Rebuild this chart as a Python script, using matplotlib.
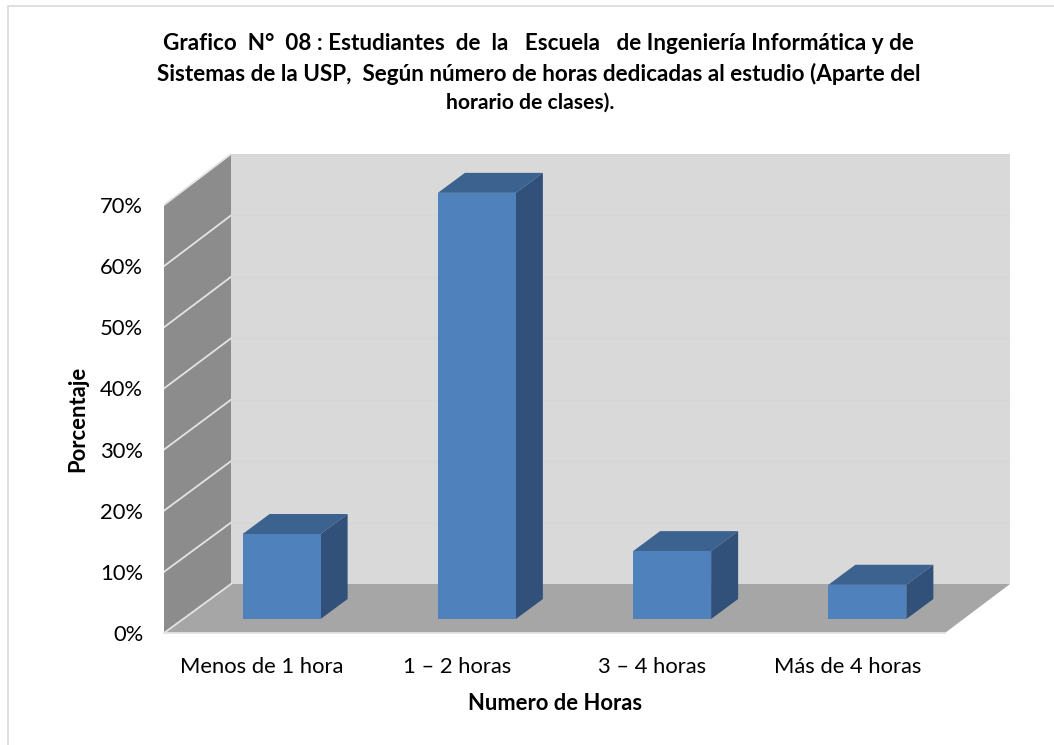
import matplotlib.pyplot as plt
from matplotlib.patches import Rectangle

categories = ["Menos de 1 hora", "1 – 2 horas", "3 – 4 horas", "Más de 4 horas"]
values = [13.9, 69.7, 11.1, 5.6]
yticks = [0, 10, 20, 30, 40, 50, 60, 70]
title_lines = [
    "Grafico  N°  08 : Estudiantes  de  la   Escuela   de Ingeniería Informática y de",
    "Sistemas de la USP,  Según número de horas dedicadas al estudio (Aparte del",
    "horario de clases).",
]

W, H = 1054, 745
plt.rcParams['font.family'] = ['Lato', 'DejaVu Sans']

fig = plt.figure(figsize=(W / 100, H / 100), dpi=100)

# axes run from the front-left corner of the floor to the top-right of the back wall
left, right, bottom, top = 164, 1010, 633, 154
ax = fig.add_axes([left / W, 1 - bottom / H, (right - left) / W, (bottom - top) / H])
px_x = 195.25   # pixels for one category
px_y = 6.114    # pixels for one percent
ax.set_xlim(0, (right - left) / px_x)
ax.set_ylim(0, (bottom - top) / px_y)
ax.patch.set_visible(False)
for s in ax.spines.values():
    s.set_visible(False)

# depth of the box and of the bars, in data units
dx = 67 / px_x
dy = 49 / px_y
rise = 2 / px_y     # back wall is a little taller than the front edge
bar_dx = 27 / px_x
bar_dy = 20 / px_y
bar_w = 78 / px_x
bar_base = 14 / px_y
bar_shift = 20 / px_x
wall_top = 70

# walls and floor
ax.fill([0, dx, dx, 0], [0, dy, wall_top + dy + rise, wall_top], color='#8C8C8C', lw=0, zorder=1)
ax.fill([dx, 4.333, 4.333, dx], [dy, dy, wall_top + dy + rise, wall_top + dy + rise], color='#D9D9D9', lw=0, zorder=1)
ax.fill([0, dx, 4.333, 4], [0, dy, dy, 0], color='#A6A6A6', lw=0, zorder=1)

# gridlines
for t in yticks:
    back_y = t + dy + rise * t / 70
    ax.plot([0, dx], [t, back_y], color='#E3E3E3', lw=1.3, zorder=2)
    if t > 0:
        ax.plot([dx, 4.333], [back_y, back_y], color='#D5D5D5', lw=0.8, zorder=2)
ax.plot([0, 4], [0, 0], color='#E3E3E3', lw=1.3, zorder=2, clip_on=False)

# bars
for i, v in enumerate(values):
    x0 = i + 0.5 + bar_shift - bar_w / 2
    x1 = x0 + bar_w
    y0 = bar_base
    y1 = bar_base + v
    ax.fill([x0, x0 + bar_dx, x1 + bar_dx, x1], [y1, y1 + bar_dy, y1 + bar_dy, y1],
            color='#3C6390', lw=0, zorder=3)
    ax.fill([x1, x1 + bar_dx, x1 + bar_dx, x1], [y0, y0 + bar_dy, y1 + bar_dy, y1],
            color='#31517A', lw=0, zorder=3)
ax.bar([i + 0.5 + bar_shift for i in range(4)], values, bottom=bar_base, width=bar_w,
       color='#4F81BD', zorder=4)

ax.set_yticks(yticks)
ax.set_yticklabels([f"{t}%" for t in yticks], fontsize=15.8, color='black')
ax.set_xticks([i + 0.5 for i in range(4)])
ax.set_xticklabels(categories, fontsize=15.8, color='black')
ax.tick_params(axis='y', length=0, pad=15)
ax.tick_params(axis='x', length=0, pad=17)

for line, x, y, size in zip(title_lines, [538.5, 538.5, 530], [44, 74, 103], [16.2, 16.2, 15.2]):
    fig.text(x / W, 1 - y / H, line, ha='center', va='center', fontsize=size, fontweight='bold')
fig.text(78 / W, 1 - 419 / H, "Porcentaje", rotation=90, ha='center', va='center',
         fontsize=15.8, fontweight='bold')
fig.text(555 / W, 1 - 703 / H, "Numero de Horas", ha='center', va='center',
         fontsize=15.8, fontweight='bold')

# chart frame
fig.patches.append(Rectangle((8 / W, -0.01), 1.02, 1 - 6 / H + 0.01, transform=fig.transFigure,
                             fill=False, ec='#D9D9D9', lw=1.2))

fig.savefig("out.png", dpi=100)
